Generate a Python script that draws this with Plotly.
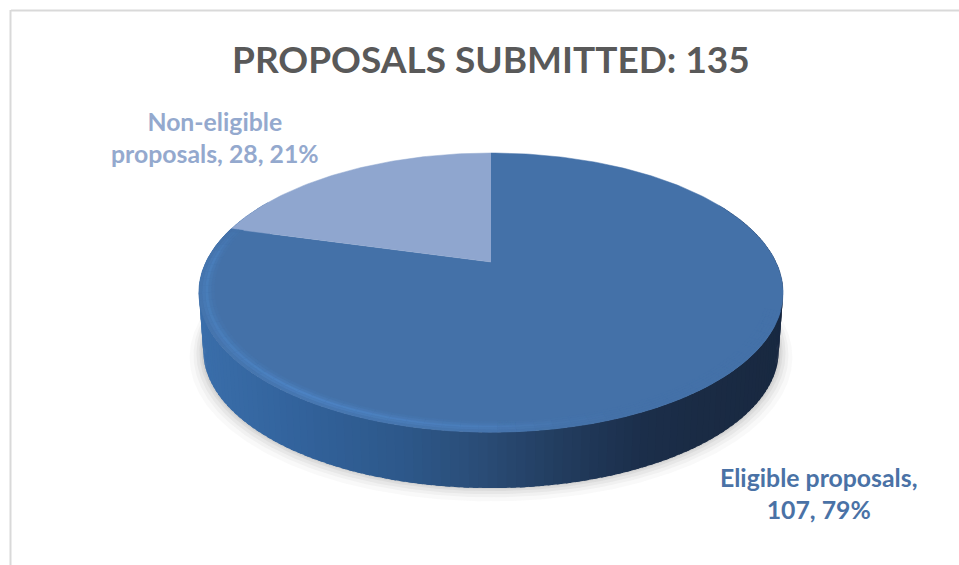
import math
import plotly.graph_objects as go

categories = ["Eligible proposals", "Non-eligible proposals"]
values = [107, 28]
label_lines = ["Eligible proposals,<br>107, 79%", "Non-eligible<br>proposals, 28, 21%"]
title_text = "PROPOSALS SUBMITTED: 135"
slice_colors = ["#4471A8", "#8FA6CF"]
label_colors = ["#4A72A6", "#94A9CE"]

# pie projection (a tilted disc drawn on pixel-like axes)
CX, CY, A, B, K = 491.0, 262.0, 285.0, 132.9, 0.219
DEPTH, BOTTOM_SCALE = 58.5, 0.985


def proj(theta_deg, r=1.0, s=1.0, dy=0.0, dx=0.0):
    t = math.radians(theta_deg)
    u, v = r * math.sin(t), r * math.cos(t)
    d = 1 + K * v
    return CX + dx + s * A * u / d, CY + dy - s * B * v / d


def mix(stops, x):
    if x <= stops[0][0]:
        c = stops[0][1]
    elif x >= stops[-1][0]:
        c = stops[-1][1]
    else:
        for (x0, c0), (x1, c1) in zip(stops, stops[1:]):
            if x0 <= x <= x1:
                f = (x - x0) / (x1 - x0)
                c = tuple(a + (b - a) * f for a, b in zip(c0, c1))
                break
    return "rgb(%d,%d,%d)" % tuple(round(i) for i in c)


total = sum(values)
sweep_1 = 360.0 * values[0] / total
fig = go.Figure()


def poly(xs, ys, color, opacity=1.0, line=0.0):
    fig.add_trace(go.Scatter(
        x=xs, y=ys, mode="lines", fill="toself", fillcolor=color, opacity=opacity,
        line=dict(color=color, width=line), hoverinfo="skip", showlegend=False))


def arc(a0, a1, n=None, **kw):
    n = n or max(2, int(abs(a1 - a0) * 1.5))
    return [proj(a0 + (a1 - a0) * i / n, **kw) for i in range(n + 1)]


# soft floor shadow
for grow, op in [(14, .05), (10, .07), (7, .09), (4, .11), (2, .13)]:
    pts = arc(60, 300, s=BOTTOM_SCALE + grow / 300, dy=DEPTH + grow * .45 - 1)
    poly([p[0] for p in pts], [p[1] for p in pts], "#8a8a8a", op)

# side wall as narrow strips shaded left-to-right
wall = [(200, (58, 110, 170)), (300, (50, 98, 155)), (400, (45, 88, 138)),
        (480, (42, 76, 118)), (560, (34, 60, 94)), (640, (27, 46, 74)),
        (700, (26, 43, 68)), (790, (24, 40, 64))]
step = 1.5
th = 62.0
while th < 298:
    a = arc(th, th + step * 1.6, n=1)
    b = arc(th + step * 1.6, th, n=1, s=BOTTOM_SCALE, dy=DEPTH)
    pts = a + b
    xm = sum(p[0] for p in pts) / 4
    poly([p[0] for p in pts], [p[1] for p in pts], mix(wall, xm))
    th += step

# top surface: slices from the values
n_pts = 300
pts = [proj(0, r=0)] + arc(0, sweep_1, n=n_pts)
poly([p[0] for p in pts], [p[1] for p in pts], slice_colors[0], line=0.5)
pts = [proj(0, r=0)] + arc(sweep_1, 360, n=80)
poly([p[0] for p in pts], [p[1] for p in pts], slice_colors[1], line=0.5)

# bevel along the rim of the large slice
top = (68, 113, 168)
rim_hi = [(198, (72, 124, 184)), (300, (76, 130, 194)), (480, (74, 125, 186)),
          (560, (70, 116, 172)), (620, top), (800, top)]
rings = [(0.95, 0.96, .18), (0.96, 0.97, .5), (0.97, 0.98, 1.0), (0.98, 0.99, .7), (0.99, 1.0, .35)]
th = 110.0
step = 3.0
while th < sweep_1 - 0.01:
    th1 = min(th + step, sweep_1)
    fade = min(1.0, max(0.0, (sweep_1 - th) / 15.0))
    for r0, r1, w in rings:
        a = arc(th, th1, n=1, r=r1)
        b = arc(th1, th, n=1, r=r0)
        q = a + b
        xm = sum(p[0] for p in q) / 4
        col = mix(rim_hi, xm)
        rgb = [int(c) for c in col[4:-1].split(",")]
        blended = "rgb(%d,%d,%d)" % tuple(round(t + (c - t) * w * fade) for c, t in zip(rgb, top))
        poly([p[0] for p in q], [p[1] for p in q], blended, line=0.4)
    th += step

FONT = "Lato, 'Open Sans', sans-serif"
fig.add_annotation(x=491, y=58, text="<b>%s</b>" % title_text, showarrow=False,
                   font=dict(family=FONT, size=37, color="#595959"))
fig.add_annotation(x=818, y=493, text="<b>%s</b>" % label_lines[0], showarrow=False,
                   font=dict(family=FONT, size=24.8, color=label_colors[0]))
fig.add_annotation(x=215, y=137, text="<b>%s</b>" % label_lines[1], showarrow=False,
                   font=dict(family=FONT, size=24.8, color=label_colors[1]))

# chart frame, visible along the top and left edges
fig.add_shape(type="line", x0=11, x1=959, y0=10.5, y1=10.5, line=dict(color="#D9D9D9", width=2))
fig.add_shape(type="line", x0=10.5, x1=10.5, y0=10, y1=565, line=dict(color="#D9D9D9", width=2))

fig.update_layout(
    width=959, height=565, margin=dict(l=0, r=0, t=0, b=0), showlegend=False,
    paper_bgcolor="white", plot_bgcolor="white",
    xaxis=dict(range=[0, 959], visible=False, fixedrange=True),
    yaxis=dict(range=[565, 0], visible=False, fixedrange=True),
)
fig.write_html("out.html", config={"displayModeBar": False},
               post_script="document.body.style.margin='0';")
